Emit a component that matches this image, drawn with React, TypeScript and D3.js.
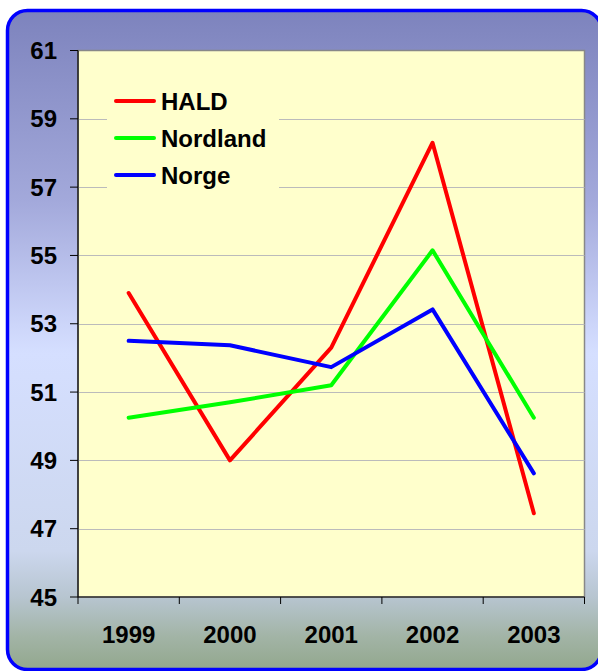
import React from "react";
import * as d3 from "d3";

const years = ["1999", "2000", "2001", "2002", "2003"];
const hald = [53.9, 49.0, 52.3, 58.3, 47.45];
const nordland = [50.25, 50.7, 51.2, 55.15, 50.25];
const norge = [52.5, 52.37, 51.73, 53.42, 48.62];
const yTicks = [45, 47, 49, 51, 53, 55, 57, 59, 61];

const series = [
  { name: "HALD", values: hald, color: "#ff0000" },
  { name: "Nordland", values: nordland, color: "#00ff00" },
  { name: "Norge", values: norge, color: "#0000ff" },
];

const W = 598;
const H = 671;
const plot = { left: 78, top: 50.5, right: 584.5, bottom: 597 };
const font = "'Liberation Sans', Arial, sans-serif";

export default function App() {
  const x = d3
    .scaleBand<string>()
    .domain(years)
    .range([plot.left, plot.right])
    .padding(0);
  const y = d3.scaleLinear().domain([45, 61]).range([plot.bottom, plot.top]);

  const line = d3
    .line<number>()
    .x((_, i) => (x(years[i]) as number) + x.bandwidth() / 2)
    .y((d) => y(d));

  return (
    <svg
      width={W}
      height={H}
      style={{ position: "absolute", left: 0, top: 0, display: "block" }}
      fontFamily={font}
    >
      <defs>
        <linearGradient id="bg" x1="0" y1="0" x2="0" y2="1">
          <stop offset="0" stopColor="#7d83bd" />
          <stop offset="0.29" stopColor="#a3a9db" />
          <stop offset="0.48" stopColor="#cdd6fa" />
          <stop offset="0.52" stopColor="#d5dfff" />
          <stop offset="0.82" stopColor="#ccd7ee" />
          <stop offset="0.89" stopColor="#b7c5d0" />
          <stop offset="0.95" stopColor="#a2b4a6" />
          <stop offset="1" stopColor="#92a78d" />
        </linearGradient>
      </defs>

      {/* outer frame */}
      <rect
        x={7.5}
        y={10.5}
        width={594}
        height={659}
        rx={20}
        ry={20}
        fill="url(#bg)"
        stroke="#0000ff"
        strokeWidth={3.5}
      />

      {/* plot area */}
      <rect
        x={plot.left}
        y={plot.top}
        width={plot.right - plot.left}
        height={plot.bottom - plot.top}
        fill="#ffffcc"
        stroke="#888888"
        strokeWidth={1.5}
      />

      {/* gridlines */}
      {yTicks.slice(1, -1).map((t) => (
        <line
          key={t}
          x1={plot.left}
          x2={plot.right}
          y1={Math.round(y(t)) + 0.5}
          y2={Math.round(y(t)) + 0.5}
          stroke="#bbbbbb"
          strokeWidth={1}
        />
      ))}

      {/* axes */}
      <line x1={plot.left} x2={plot.left} y1={plot.top} y2={plot.bottom} stroke="#000" strokeWidth={1.2} />
      <line x1={plot.left} x2={plot.right} y1={plot.bottom} y2={plot.bottom} stroke="#000" strokeWidth={1.2} />
      {yTicks.map((t) => (
        <g key={t}>
          <line x1={70} x2={plot.left} y1={y(t)} y2={y(t)} stroke="#000" strokeWidth={1} />
          <text
            x={57}
            y={y(t)}
            dy="0.36em"
            textAnchor="end"
            fontSize={24}
            fontWeight="bold"
            fill="#000"
          >
            {t}
          </text>
        </g>
      ))}
      {years.map((yr) => (
        <line
          key={"t" + yr}
          x1={x(yr) as number}
          x2={x(yr) as number}
          y1={plot.bottom}
          y2={plot.bottom + 7}
          stroke="#000"
          strokeWidth={1}
        />
      ))}
      <line x1={plot.right} x2={plot.right} y1={plot.bottom} y2={plot.bottom + 7} stroke="#000" strokeWidth={1} />
      {years.map((yr) => (
        <text
          key={"l" + yr}
          x={(x(yr) as number) + x.bandwidth() / 2}
          y={643}
          textAnchor="middle"
          fontSize={24}
          fontWeight="bold"
          fill="#000"
        >
          {yr}
        </text>
      ))}

      {/* series */}
      {series.map((s) => (
        <path
          key={s.name}
          d={line(s.values) as string}
          fill="none"
          stroke={s.color}
          strokeWidth={4}
          strokeLinejoin="round"
          strokeLinecap="round"
        />
      ))}

      {/* legend */}
      <rect x={107} y={81} width={172} height={112} fill="#ffffcc" />
      {series.map((s, i) => (
        <g key={"lg" + s.name} transform={`translate(0, ${101 + i * 37})`}>
          <line x1={116} x2={154} y1={0} y2={0} stroke={s.color} strokeWidth={4} strokeLinecap="round" />
          <text x={161} y={0} dy="0.36em" fontSize={24} fontWeight="bold" fill="#000">
            {s.name}
          </text>
        </g>
      ))}
    </svg>
  );
}
